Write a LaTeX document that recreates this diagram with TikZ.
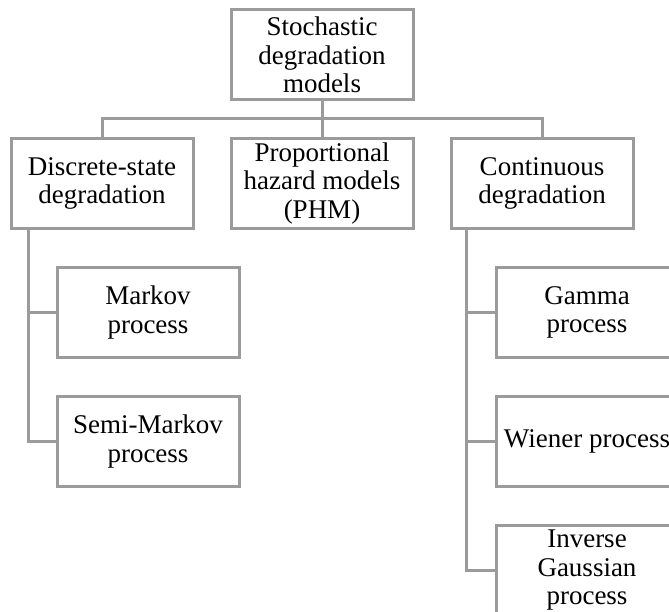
\documentclass[tikz,border=0pt]{standalone}
\usepackage{fontspec}
\setmainfont{Liberation Serif}
\definecolor{edgegray}{RGB}{155,155,155}
\tikzset{
  box/.style={draw=edgegray, line width=3pt, fill=white, minimum width=182pt,
    minimum height=90pt, inner sep=0pt, align=center,
    font=\fontsize{27}{28.5}\selectfont},
  link/.style={draw=edgegray, line width=3pt}
}
\begin{document}
\begin{tikzpicture}[x=1pt, y=-1pt]
  \useasboundingbox (0,0) rectangle (669,612);
  \clip (0,0) rectangle (669,612);

  % root and first level
  \node[box] (root) at (322,55) {Stochastic\\degradation\\models};
  \node[box] (disc) at (102,183.5) {Discrete-state\\degradation};
  \node[box] (phm)  at (322,183.5) {Proportional\\hazard models\\(PHM)};
  \node[box] (cont) at (542,183.5) {Continuous\\degradation};

  % discrete-state branch
  \node[box] (markov) at (148,312.5) {Markov\\process};
  \node[box] (semi)   at (148,441.5) {Semi-Markov\\process};

  % continuous branch
  \node[box] (gamma)  at (587,312.5) {Gamma\\process};
  \node[box] (wiener) at (587,441.5) {Wiener process};
  \node[box] (invg)   at (587,570.5) {Inverse\\Gaussian\\process};

  % tree connectors
  \coordinate (bus) at (322,119);
  \draw[link] (root) -- (phm);
  \draw[link] (disc.north) -- (disc.north |- bus) -- (cont.north |- bus) -- (cont.north);

  \coordinate (ltrunk) at ([xshift=19pt]disc.south west);
  \coordinate (rtrunk) at ([xshift=17pt]cont.south west);
  \draw[link] (ltrunk) |- (markov.west);
  \draw[link] (ltrunk) |- (semi.west);
  \draw[link] (rtrunk) |- (gamma.west);
  \draw[link] (rtrunk) |- (wiener.west);
  \draw[link] (rtrunk) |- (invg.west);
\end{tikzpicture}
\end{document}
